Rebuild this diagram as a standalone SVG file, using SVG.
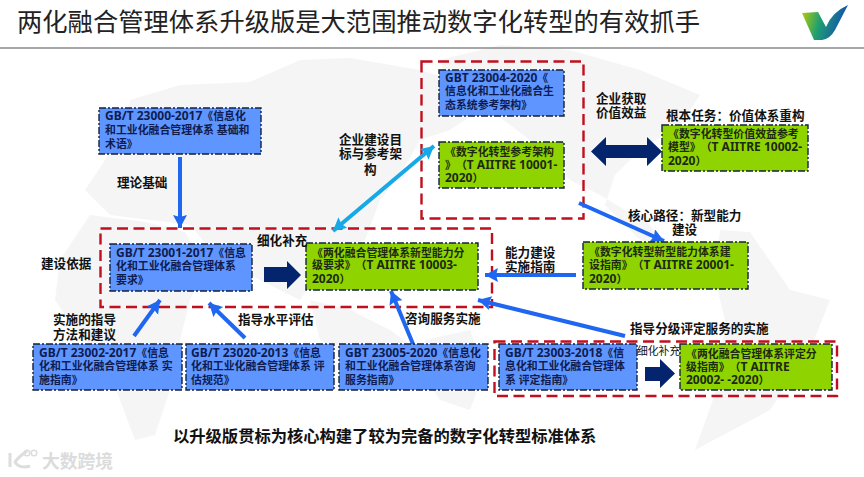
<svg xmlns="http://www.w3.org/2000/svg" width="864" height="477" viewBox="0 0 864 477">
<style>
text{font-family:"Noto Sans","Noto Sans CJK SC",sans-serif;font-weight:700;fill:#111;text-spacing-trim:space-all}
.n{stroke:#14213d;stroke-width:1.4;stroke-dasharray:7 2 2 2}
.b{fill:#5f95ff}.g{fill:#8fd400}
.nt{font-size:10.9px;fill:#0e1c50}
.gt{font-size:10.9px;fill:#1c2a10}
.la{font-size:12px}
.l{font-size:12.6px}
.r{fill:none;stroke:#c00f1e;stroke-width:2.4;stroke-dasharray:11 5.500}
.c{fill:none;stroke:#1f66f0;stroke-width:4}
.m{fill:#f5f5f5}
.nv{fill:#04246e}
</style>
<defs>
<marker id="a" markerUnits="userSpaceOnUse" markerWidth="16" markerHeight="16" refX="13" refY="7" orient="auto"><path d="M0 0L13 7L0 14L2 7z" fill="#1f66f0"/></marker>
<marker id="cy" markerUnits="userSpaceOnUse" markerWidth="16" markerHeight="16" refX="13" refY="7" orient="auto-start-reverse"><path d="M0 0L13 7L0 14L2 7z" fill="#17a8e8"/></marker>
<linearGradient id="lg" x1="0" y1="0" x2="1" y2=".2"><stop offset="0" stop-color="#c4cf00"/><stop offset=".45" stop-color="#1fa070"/><stop offset="1" stop-color="#1450b0"/></linearGradient>
</defs>
<rect width="864" height="477" fill="#fff"/>
<g id="map">
<path class="m" d="M130 100L180 85L250 82L300 60L350 58L420 70L470 85L480 110L450 130L420 140L400 175L380 200L365 240L330 255L300 300L270 285L240 270L215 255L190 225L150 220L110 215L85 190L105 160L125 130z"/>
<path class="m" d="M90 215L145 222L185 232L205 270L190 300L180 340L170 390L155 435L135 440L120 400L105 360L75 330L55 300L60 260z"/>
<path class="m" d="M425 340L470 330L485 370L470 410L440 400L420 370z"/>
<path class="m" d="M310 300L350 310L390 330L410 345L400 375L350 360L320 340z"/>
<path class="m" d="M440 60L500 45L570 50L640 70L700 95L680 125L640 150L615 175L605 205L640 240L665 250L650 225L600 195L570 180L530 140L490 110L450 90z"/>
<path class="m" d="M720 230L750 232L790 290L830 300L810 350L770 410L695 450L720 380L725 320L715 280z"/>
</g>
<g id="title">
<text x="17" y="31" style="font-size:25.3px;font-weight:400;fill:#222">两化融合管理体系升级版是大范围推动数字化转型的有效抓手</text>
<path d="M0 48H864" stroke="#8a8a8a" stroke-width="1.6"/>
</g>
<g id="logo">
<path d="M802 13L818 12L826 27Q832 12 848 5L835 30Q830 39 822 40H814z" fill="url(#lg)"/>
</g>
<g id="frames">
<rect class="r" x="421.500" y="61.500" width="162" height="157"/>
<rect class="r" x="100.500" y="228.500" width="391.500" height="78.500"/>
<rect class="r" x="494.500" y="341.500" width="342.500" height="54.500"/>
</g>
<g id="connectors">
<path class="c" d="M180 157V228" marker-end="url(#a)"/>
<path class="c" d="M333 231L434 146" style="stroke:#17a8e8" marker-start="url(#cy)" marker-end="url(#cy)"/>
<path class="c" d="M579 203L664 241" marker-end="url(#a)"/>
<path class="c" d="M576 275H485" marker-end="url(#a)"/>
<path class="c" d="M625 336L478 300" marker-end="url(#a)"/>
<path class="c" d="M134 336L160 300" marker-end="url(#a)"/>
<path class="c" d="M245 338L209 303" marker-end="url(#a)"/>
<path class="c" d="M413 344L391 291" marker-end="url(#a)"/>
<path class="nv" d="M591 151.500L606 137V145H647V137L662 151.500L647 166V158H606V166z"/>
<path class="nv" d="M264 267H287V261L301 275L287 289V282H264z"/>
<path class="nv" d="M645 367H660V359L675 373.500L660 388V381H645z"/>
</g>
<g id="n23000"><rect class="n b" x="99" y="108" width="162" height="46"/><text class="nt" x="105" y="120"><tspan class="la">GB/T 23000-2017</tspan>《信息化</text><text class="nt" x="105" y="134">和工业化融合管理体系 基础和</text><text class="nt" x="105" y="148">术语》</text></g>
<g id="n23004"><rect class="n b" x="439" y="70" width="125" height="46"/><text class="nt" x="445" y="82"><tspan class="la">GBT 23004-2020</tspan>《</text><text class="nt" x="445" y="95">信息化和工业化融合生</text><text class="nt" x="445" y="109">态系统参考架构》</text></g>
<g id="n10001"><rect class="n g" x="439" y="142" width="125" height="46"/><text class="gt" x="445" y="156">《数字化转型参考架构</text><text class="gt" x="445" y="169">》（<tspan class="la">T AIITRE 10001-</tspan></text><text class="gt" x="445" y="182"><tspan class="la">2020</tspan>）</text></g>
<g id="n10002"><rect class="n g" x="662" y="125" width="146" height="46"/><text class="gt" x="668" y="138">《数字化转型价值效益参考</text><text class="gt" x="668" y="151">模型》（<tspan class="la">T AIITRE 10002-</tspan></text><text class="gt" x="668" y="165"><tspan class="la">2020</tspan>）</text></g>
<g id="n23001"><rect class="n b" x="110" y="244" width="142" height="47"/><text class="nt" x="116" y="257"><tspan class="la">GB/T 23001-2017</tspan>《信息</text><text class="nt" x="116" y="270">化和工业化融合管理体系</text><text class="nt" x="116" y="284">要求》</text></g>
<g id="n10003"><rect class="n g" x="306" y="243" width="172" height="47"/><text class="gt" x="312" y="257">《两化融合管理体系新型能力分</text><text class="gt" x="312" y="269">级要求》（<tspan class="la">T AIITRE 10003-</tspan></text><text class="gt" x="312" y="283"><tspan class="la">2020</tspan>）</text></g>
<g id="n20001"><rect class="n g" x="583" y="242" width="165" height="47"/><text class="gt" x="589" y="256">《数字化转型新型能力体系建</text><text class="gt" x="589" y="269">设指南》（<tspan class="la">T AIITRE 20001-</tspan></text><text class="gt" x="589" y="283"><tspan class="la">2020</tspan>）</text></g>
<g id="n23002"><rect class="n b" x="33" y="344" width="149" height="46"/><text class="nt" x="39" y="357"><tspan class="la">GB/T 23002-2017</tspan>《信息</text><text class="nt" x="39" y="370">化和工业化融合管理体系 实</text><text class="nt" x="39" y="384">施指南》</text></g>
<g id="n23020"><rect class="n b" x="186" y="344" width="148" height="46"/><text class="nt" x="191" y="357"><tspan class="la">GB/T 23020-2013</tspan>《信息</text><text class="nt" x="191" y="370">化和工业化融合管理体系 评</text><text class="nt" x="191" y="384">估规范》</text></g>
<g id="n23005"><rect class="n b" x="339" y="344" width="149" height="46"/><text class="nt" x="345" y="357"><tspan class="la">GBT 23005-2020</tspan>《信息化</text><text class="nt" x="345" y="370">和工业化融合管理体系咨询</text><text class="nt" x="345" y="384">服务指南》</text></g>
<g id="n23003"><rect class="n b" x="499" y="344" width="138" height="46"/><text class="nt" x="505" y="357"><tspan class="la">GB/T 23003-2018</tspan>《信</text><text class="nt" x="505" y="370">息化和工业化融合管理体</text><text class="nt" x="505" y="384">系 评定指南》</text></g>
<g id="n20002"><rect class="n g" x="680" y="344" width="152" height="46"/><text class="gt" x="686" y="358">《两化融合管理体系评定分</text><text class="gt" x="686" y="371">级指南》（<tspan class="la">T AIITRE</tspan></text><text class="gt" x="686" y="384"><tspan class="la">20002- -2020</tspan>）</text></g>
<g id="labels">
<text class="l" x="117" y="187">理论基础</text>
<text class="l" x="339" y="144">企业建设目</text><text class="l" x="339" y="158">标与参考架</text><text class="l" x="364" y="174">构</text>
<text class="l" x="596" y="103">企业获取</text><text class="l" x="596" y="117">价值效益</text>
<text class="l" x="666" y="120">根本任务：价值体系重构</text>
<text class="l" x="628" y="220">核心路径：新型能力</text><text class="l" x="672" y="234">建设</text>
<text class="l" x="257" y="245">细化补充</text>
<text class="l" x="41" y="268">建设依据</text>
<text class="l" x="505" y="257">能力建设</text><text class="l" x="505" y="271">实施指南</text>
<text class="l" x="53" y="324">实施的指导</text><text class="l" x="53" y="339">方法和建议</text>
<text class="l" x="238" y="324">指导水平评估</text>
<text class="l" x="405" y="323">咨询服务实施</text>
<text class="l" x="630" y="333">指导分级评定服务的实施</text>
<text x="637" y="355" style="font-size:10.800px;font-weight:400">细化补充</text>
<text x="173" y="442" style="font-size:16.300px">以升级版贯标为核心构建了较为完备的数字化转型标准体系</text>
</g>
<g id="watermark">
<path d="M10 453V467M27 451C20 456 17 459 15 462C18 467 24 468 30 466" fill="none" stroke="#ddd" stroke-width="3"/>
<circle cx="27" cy="453" r="2.800" fill="none" stroke="#ddd" stroke-width="1.500"/><circle cx="34" cy="453" r="2.800" fill="none" stroke="#ddd" stroke-width="1.500"/>
<text x="42" y="468" style="font-size:17.800px;font-weight:700;fill:#dcdcdc">大数跨境</text>
</g>
</svg>
